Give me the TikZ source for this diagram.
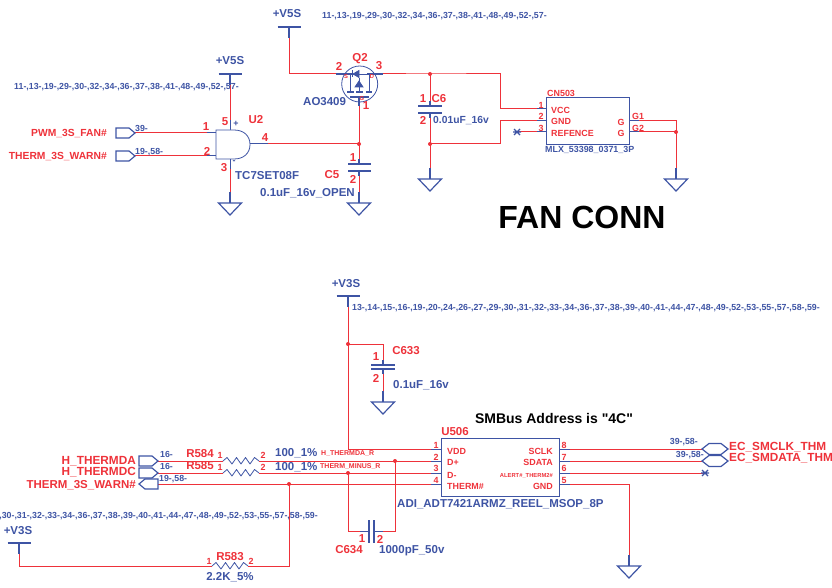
\documentclass[tikz,border=0pt]{standalone}
\usepackage{fontspec}
\setmainfont{Liberation Sans}
\newfontfamily\plainq{Liberation Sans}
\begin{document}
\begin{tikzpicture}[x=1pt,y=-1pt,
  font=\bfseries,
  wire/.style={draw=myred,line width=1pt},
  pinw/.style={draw=myblue,line width=1pt},
  sym/.style={draw=myblue,line width=1.2pt},
  thin sym/.style={draw=myblue,line width=0.8pt},
  dot/.style={circle,fill=myred,draw=none,inner sep=0pt,minimum size=4pt},
  t/.style={inner sep=0pt,text=myred},
  b/.style={inner sep=0pt,text=myblue},
  s12/.style={font=\fontsize{11.8}{11.8}\selectfont\bfseries},
  s10/.style={font=\fontsize{11.5}{11.5}\selectfont\bfseries},
  s9/.style={font=\fontsize{11.5}{11.5}\selectfont\bfseries},
  s8/.style={font=\fontsize{10.3}{10.3}\selectfont\bfseries},
  sc/.style={font=\fontsize{8.9}{8.9}\selectfont\bfseries},
  s7/.style={font=\fontsize{8.8}{8.8}\selectfont\bfseries},
  s5/.style={font=\fontsize{5.8}{5.8}\selectfont\bfseries},
  sn/.style={font=\fontsize{7}{7}\selectfont\bfseries},
  gnd/.pic={\draw[sym] (-11.5,0)--(11.5,0)--(0,12)--cycle; \draw[sym] (0,0)--(0,-11);},
  pwr/.pic={\draw[draw=myblue,line width=1.4pt] (-11.5,0)--(11.5,0); \draw[sym] (0,0)--(0,11);},
  portr/.pic={\draw[draw=myblue,line width=1.2pt] (0,-5)--(13,-5)--(19,0)--(13,5)--(0,5)--cycle;},
  portl/.pic={\draw[draw=myblue,line width=1.2pt] (19,-5)--(6,-5)--(0,0)--(6,5)--(19,5)--cycle;},
  hex/.pic={\draw[draw=myblue,line width=1.2pt] (0,0)--(7,-5.5)--(19,-5.5)--(26,0)--(19,5.5)--(7,5.5)--cycle;},
  res/.pic={\draw[thin sym,line join=round] (0,0)--(4,-3.5)--(9,3)--(13.5,-3.5)--(18,3)--(22.5,-3.5)--(27,3)--(31.5,-3.5)--(36,0);},
  nc/.pic={\draw[draw=myblue,line width=1.3pt] (-3,-3)--(3,3) (-3,3)--(3,-3) (-4,0)--(4,0);},
]
\definecolor{myred}{RGB}{238,50,58}
\definecolor{myblue}{RGB}{62,84,164}
\useasboundingbox (0,0) rectangle (832,588);

% ---------- named points ----------
\coordinate (pw5a) at (230,74);
\coordinate (u2p5) at (230,130);
\coordinate (u2p3) at (230,159);
\coordinate (g1) at (230,203);
\coordinate (u2p1) at (216,133);
\coordinate (u2p2) at (216,156);
\coordinate (in1) at (135,133);
\coordinate (in2) at (135,156);
\coordinate (u2p4) at (250,144);
\coordinate (jg) at (359,144);
\coordinate (qg) at (359,98);
\coordinate (c5t) at (359,164);
\coordinate (c5b) at (359,171);
\coordinate (g2) at (359,203);
\coordinate (pw5b) at (289,27);
\coordinate (qs) at (336,74);
\coordinate (qd) at (383,74);
\coordinate (j6) at (430,74);
\coordinate (k1) at (500,74);
\coordinate (cnp1) at (547,109);
\coordinate (cnp2) at (547,121);
\coordinate (cnp3) at (547,132);
\coordinate (k2) at (500,109);
\coordinate (k3) at (500,121);
\coordinate (k4) at (500,144);
\coordinate (j7) at (430,144);
\coordinate (c6t) at (430,106);
\coordinate (c6b) at (430,113);
\coordinate (g3) at (430,179);
\coordinate (nc1) at (517,132);
\coordinate (cng1) at (629,121);
\coordinate (cng2) at (629,132);
\coordinate (k5) at (676,121);
\coordinate (j8) at (676,132);
\coordinate (g4) at (676,179);
\coordinate (pw3a) at (348,296);
\coordinate (j1) at (348,344);
\coordinate (k6) at (383,344);
\coordinate (c633t) at (383,365);
\coordinate (c633b) at (383,369);
\coordinate (g5) at (383,402);
\coordinate (k7) at (348,449);
\coordinate (up1) at (441,449);
\coordinate (up2) at (441,461);
\coordinate (up3) at (441,473);
\coordinate (up4) at (441,484);
\coordinate (up8) at (559,449);
\coordinate (up7) at (559,461);
\coordinate (up6) at (559,473);
\coordinate (up5) at (559,484);
\coordinate (pa) at (158,461);
\coordinate (pc) at (158,473);
\coordinate (pw) at (158,484);
\coordinate (r1a) at (223,461);
\coordinate (r1b) at (259,461);
\coordinate (r2a) at (223,473);
\coordinate (r2b) at (259,473);
\coordinate (j2) at (395,461);
\coordinate (j3) at (348,473);
\coordinate (j4) at (289,484);
\coordinate (k8) at (289,566);
\coordinate (r3b) at (248,566);
\coordinate (r3a) at (212,566);
\coordinate (k9) at (19,566);
\coordinate (pw3b) at (19,543);
\coordinate (k10) at (348,531);
\coordinate (k11) at (395,531);
\coordinate (c634l) at (369,531);
\coordinate (c634r) at (374,531);
\coordinate (pe1) at (702,449);
\coordinate (pe2) at (702,461);
\coordinate (nc2) at (705,473);
\coordinate (k12) at (629,484);
\coordinate (g6) at (629,566);

% ---------- wires ----------
\draw[wire] (pw5a)--(u2p5);
\draw[wire] (in1)--(u2p1);
\draw[wire] (in2)--(u2p2);
\draw[wire] (u2p3)--(g1);
\draw[wire] (u2p4)--(jg);
\draw[wire] (qg)--(c5t);
\draw[wire] (c5b)--(g2);
\draw[wire] (pw5b)|-(qs);
\draw[wire] (qd)--(j6)--(k1)--(k2)--(cnp1);
\draw[wire] (cnp2)--(k3)--(k4)--(j7);
\draw[wire] (j6)--(c6t);
\draw[wire] (c6b)--(g3);
\draw[wire] (nc1)--(cnp3);
\draw[wire] (cng1)--(k5)--(g4);
\draw[wire] (cng2)--(j8);
\draw[wire] (pw3a)--(k7)--(up1);
\draw[wire] (j1)--(k6)--(c633t);
\draw[wire] (c633b)--(g5);
\draw[wire] (pa)--(r1a);
\draw[wire] (r1b)--(up2);
\draw[wire] (pc)--(r2a);
\draw[wire] (r2b)--(up3);
\draw[wire] (pw)--(up4);
\draw[wire] (j4)--(k8)--(r3b);
\draw[wire] (r3a)--(k9)--(pw3b);
\draw[wire] (j3)--(k10)--(c634l);
\draw[wire] (j2)--(k11)--(c634r);
\draw[wire] (up8)--(pe1);
\draw[wire] (up7)--(pe2);
\draw[wire] (up6)--(nc2);
\draw[wire] (up5)--(k12)--(g6);

% ---------- pin stubs ----------
\draw[pinw] (u2p5)--++(0,-10);
\draw[pinw] (u2p3)--++(0,10);
\draw[pinw] (u2p1)--++(-9,0);
\draw[pinw] (u2p2)--++(-9,0);
\draw[pinw] (u2p4)--++(18,0);
\draw[pinw] (cnp1)--++(-10,0);
\draw[pinw] (cnp2)--++(-10,0);
\draw[pinw] (cnp3)--++(-10,0);
\draw[pinw] (cng1)--++(10,0);
\draw[pinw] (cng2)--++(10,0);
\draw[pinw] (up1)--++(-10,0);
\draw[pinw] (up2)--++(-10,0);
\draw[pinw] (up3)--++(-10,0);
\draw[pinw] (up4)--++(-10,0);
\draw[pinw] (up8)--++(11,0);
\draw[pinw] (up7)--++(11,0);
\draw[pinw] (up6)--++(11,0);
\draw[pinw] (up5)--++(11,0);
\draw[pinw] (c634l)--++(-9,0);
\draw[pinw] (c634r)--++(9,0);

% ---------- power / ground / ports ----------
\pic at (pw5a) {pwr};
\pic at (pw5b) {pwr};
\pic at (pw3a) {pwr};
\pic at (pw3b) {pwr};
\pic at (g1) {gnd};
\pic at (g2) {gnd};
\pic at (g3) {gnd};
\pic at (g4) {gnd};
\pic at (g5) {gnd};
\pic at (g6) {gnd};
\pic at (116,133) {portr};
\pic at (116,156) {portr};
\pic at (139,461) {portr};
\pic at (139,473) {portr};
\pic at (139,484) {portl};
\pic at (pe1) {hex};
\pic at (pe2) {hex};
\pic at (nc1) {nc};
\pic at (nc2) {nc};

% ---------- components ----------
\draw[thin sym,fill=white] (216,130)--(234,130) .. controls (244,130) and (250,136) .. (250,144.5) .. controls (250,153) and (244,159) .. (234,159)--(216,159)--cycle;
\draw[thin sym] (546.5,97) rectangle (629,144);
\draw[thin sym] (441,438) rectangle (559,496);
% capacitors
\draw[sym] (348,164)--(371,164) (348,171)--(371,171);
\draw[sym] (359,164)--++(0,-5) (359,171)--++(0,5);
\draw[sym] (418,106)--(442,106) (418,113)--(442,113);
\draw[sym] (430,106)--++(0,-5) (430,113)--++(0,5);
\draw[sym] (371,365)--(395,365) (371,369)--(395,369);
\draw[sym] (383,365)--++(0,-5) (383,369)--++(0,5);
\draw[sym] (369,520)--(369,543) (374,520)--(374,543);
% resistors
\pic at (r1a) {res};
\pic at (r2a) {res};
\pic at (r3a) {res};
% MOSFET Q2
\draw[thin sym] (359.7,84) circle (18);
\draw[sym] (336,74)--(352,74) (367,74)--(383,74);
\draw[thin sym] (352,74)--(367,74);
\draw[thin sym,fill=myblue] (353,74)--(359,70.5)--(359,77.5)--cycle;
\draw[thin sym] (352.5,70.5)--(352.5,77.5);
\draw[thin sym] (350,74)--(350,92) (369,74)--(369,92);
\draw[sym] (347,92)--(354,92) (356,92)--(363,92) (366,92)--(372,92);
\draw[sym] (350,97)--(369,97);
\draw[thin sym] (359,92)--(359,78);
\draw[thin sym,fill=myblue] (359,81)--(355,87)--(363,87)--cycle;
\draw[sym] (359,97)--(359,106);

% ---------- junctions ----------
\foreach \n in {jg,j6,j7,j8,j1,j2,j3,j4} \node[dot] at (\n) {};

% ---------- texts ----------
\node[b,s9] (tv1) at (230,61) {+V5S};
\node[b,s7,anchor=west] (tl1) at (14,87) {11-,13-,19-,29-,30-,32-,34-,36-,37-,38-,41-,48-,49-,52-,57-};
\node[t,s8,anchor=east] (tp1) at (107,133.5) {PWM\_3S\_FAN\#};
\node[t,s8,anchor=east] (tp2) at (107,156.5) {THERM\_3S\_WARN\#};
\node[b,s7,anchor=west] (tx1) at (135,128) {39-};
\node[b,s7,anchor=west] (tx2) at (135,152) {19-,58-};
\node[t,s10] at (206,127) {1};
\node[t,s10] at (207,151) {2};
\node[t,s10] at (225,122) {5};
\node[b,sc] at (236,124) {+};
\node[b,sc] at (234,162) {-};
\node[t,s10] at (224,168) {3};
\node[t,s10] at (256,120) {U2};
\node[t,s10] at (265,138) {4};
\node[b,s9,anchor=west] (tu2) at (235,176) {TC7SET08F};
\node[b,s9,anchor=west] (tc5v) at (260,193) {0.1uF\_16v\_OPEN};
\node[t,s10] at (332,175) {C5};
\node[t,s10] at (353,158) {1};
\node[t,s10] at (353,179) {2};
\node[t,s10] at (360,59) {Q2};
\node[t,s10] at (339,66) {2};
\node[t,s10] at (379,66) {3};
\node[t,s10] at (366,106) {1};
\node[b,s9,anchor=west] (tq) at (303,102) {AO3409};
\node[t,s5] at (346,77) {S};
\node[t,s5] at (372,77) {D};
\node[t,s5] at (362,99) {G};
\node[b,s9] (tv2) at (287,14) {+V5S};
\node[b,s7,anchor=west] (tl2) at (322,16) {11-,13-,19-,29-,30-,32-,34-,36-,37-,38-,41-,48-,49-,52-,57-};
\node[t,s10] at (423,99) {1};
\node[t,s10] at (423,120) {2};
\node[t,s10] at (439,99) {C6};
\node[b,s8,anchor=west] (tc6) at (433,120.5) {0.01uF\_16v};
\node[t,sc,anchor=west] (tcn) at (547,93) {CN503};
\node[t,sc] at (541,105) {1};
\node[t,sc] at (541,116) {2};
\node[t,sc] at (541,128) {3};
\node[t,sc,anchor=west] at (551,110) {VCC};
\node[t,sc,anchor=west] at (551,121) {GND};
\node[t,sc,anchor=west] at (551,133) {REFENCE};
\node[t,sc] at (621,122) {G};
\node[t,sc] at (621,133) {G};
\node[t,sc,anchor=west] at (632,116) {G1};
\node[t,sc,anchor=west] at (632,128) {G2};
\node[b,sc,anchor=west] (tmlx) at (545,150) {MLX\_53398\_0371\_3P};
\node[inner sep=0pt,text=black,font=\fontsize{32}{32}\selectfont\bfseries] (fan) at (582,217) {FAN CONN};

\node[b,s9] (tv3) at (346,284) {+V3S};
\node[b,s7,anchor=west] (tl3) at (352,308) {13-,14-,15-,16-,19-,20-,24-,26-,27-,29-,30-,31-,32-,33-,34-,36-,37-,38-,39-,40-,41-,44-,47-,48-,49-,52-,53-,55-,57-,58-,59-};
\node[t,s10] at (406,351) {C633};
\node[t,s10] at (376,357) {1};
\node[t,s10] at (376,378) {2};
\node[b,s9,anchor=west] (tc633) at (393,385) {0.1uF\_16v};
\node[inner sep=0pt,text=black,font=\plainq\fontsize{14}{14}\selectfont\bfseries] (sm) at (554,418) {SMBus Address is "4C"};
\node[t,s10] at (455,432) {U506};
\node[t,sc] at (436,445) {1};
\node[t,sc] at (436,457) {2};
\node[t,sc] at (436,468) {3};
\node[t,sc] at (436,480) {4};
\node[t,sc] at (564,445) {8};
\node[t,sc] at (564,457) {7};
\node[t,sc] at (564,468) {6};
\node[t,sc] at (564,480) {5};
\node[t,sc,anchor=west] at (447,451) {VDD};
\node[t,sc,anchor=west] at (447,462) {D+};
\node[t,sc,anchor=west] at (447,475) {D-};
\node[t,sc,anchor=west] at (447,486) {THERM\#};
\node[t,sc,anchor=east] at (553,451) {SCLK};
\node[t,sc,anchor=east] at (553,462) {SDATA};
\node[t,s5,anchor=east] at (553,476) {ALERT\#\_THERM2\#};
\node[t,sc,anchor=east] at (553,486) {GND};
\node[b,s9,anchor=west] (tadi) at (397,504) {ADI\_ADT7421ARMZ\_REEL\_MSOP\_8P};
\node[t,sn,anchor=west] at (321,454) {H\_THERMDA\_R};
\node[t,sn,anchor=west] at (320,466.5) {THERM\_MINUS\_R};
\node[t,s10] at (349,550) {C634};
\node[t,s10] at (362,539) {1};
\node[t,s10] at (380,539) {2};
\node[b,s9,anchor=west] (tc634) at (379,551) {1000pF\_50v};
\node[t,s12,anchor=east] (th1) at (136,461) {H\_THERMDA};
\node[t,s12,anchor=east] (th2) at (136,472) {H\_THERMDC};
\node[t,s10,anchor=east] (th3) at (136,485) {THERM\_3S\_WARN\#};
\node[b,s7,anchor=west] at (160,454) {16-};
\node[b,s7,anchor=west] at (160,466) {16-};
\node[b,s7,anchor=west] at (159,479) {19-,58-};
\node[t,s10] at (200,454) {R584};
\node[t,s10] at (200,466) {R585};
\node[t,sc] at (220,455) {1};
\node[t,sc] at (220,467) {1};
\node[t,sc] at (263,455) {2};
\node[t,sc] at (263,467) {2};
\node[b,s10,anchor=west] at (275,453) {100\_1\%};
\node[b,s10,anchor=west] at (275,467) {100\_1\%};
\node[t,s10] at (230,557) {R583};
\node[t,sc] at (209,561) {1};
\node[t,sc] at (251,561) {2};
\node[b,s10] (t22) at (230,577) {2.2K\_5\%};
\node[b,s7,anchor=east] (tl4) at (318,516) {,30-,31-,32-,33-,34-,36-,37-,38-,39-,40-,41-,44-,47-,48-,49-,52-,53-,55-,57-,58-,59-};
\node[b,s9] (tv4) at (18,531) {+V3S};
\node[b,s7,anchor=east] at (698,442) {39-,58-};
\node[b,s7,anchor=east] at (704,455) {39-,58-};
\node[t,s12,anchor=west] (te1) at (729,447) {EC\_SMCLK\_THM};
\node[t,s12,anchor=west] (te2) at (729,458) {EC\_SMDATA\_THM};
\end{tikzpicture}
\end{document}
